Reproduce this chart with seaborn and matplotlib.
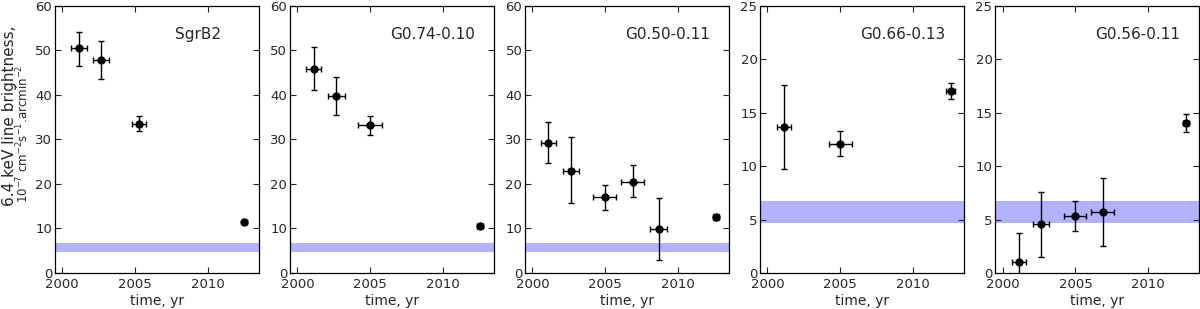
import numpy as np
import pandas as pd
import matplotlib
matplotlib.use("Agg")
import matplotlib.pyplot as plt
import seaborn as sns

# ---------------- data ----------------
names = ["SgrB2", "G0.74-0.10", "G0.50-0.11", "G0.66-0.13", "G0.56-0.11"]
ymax = [60, 60, 60, 25, 25]
ystep = [10, 10, 10, 5, 5]

sgrb2_t = [2001.15, 2002.68, 2005.25, 2012.5]
sgrb2_terr = [0.53, 0.55, 0.48, 0.2]
sgrb2_y = [50.5, 47.9, 33.5, 11.5]
sgrb2_ylo = [3.9, 4.3, 1.6, 0.5]
sgrb2_yhi = [3.7, 4.2, 1.7, 0.5]

g074_t = [2001.14, 2002.68, 2004.99, 2012.52]
g074_terr = [0.51, 0.57, 0.8, 0.2]
g074_y = [45.8, 39.75, 33.15, 10.6]
g074_ylo = [4.8, 4.35, 2.05, 0.4]
g074_yhi = [4.9, 4.35, 2.1, 0.4]

g050_t = [2001.1, 2002.65, 2004.97, 2006.88, 2008.67, 2012.6]
g050_terr = [0.5, 0.57, 0.78, 0.79, 0.57, 0.2]
g050_y = [29.25, 23.0, 17.0, 20.55, 9.9, 12.6]
g050_ylo = [4.65, 7.3, 2.75, 3.55, 7.05, 0.6]
g050_yhi = [4.65, 7.5, 2.8, 3.6, 7.05, 0.6]

g066_t = [2001.14, 2005.0, 2012.57]
g066_terr = [0.51, 0.8, 0.29]
g066_y = [13.7, 12.1, 17.03]
g066_ylo = [3.95, 1.15, 0.78]
g066_yhi = [3.9, 1.15, 0.75]

g056_t = [2001.13, 2002.65, 2004.97, 2006.88, 2012.6]
g056_terr = [0.5, 0.57, 0.78, 0.79, 0.2]
g056_y = [1.0, 4.6, 5.3, 5.7, 14.0]
g056_ylo = [2.7, 3.1, 1.4, 3.2, 0.85]
g056_yhi = [2.7, 3.0, 1.4, 3.2, 0.85]

band_low = 4.7
band_high = 6.7

xticks = [2000, 2005, 2010]
xlim = (1999.5, 2013.5)

series = [
    (sgrb2_t, sgrb2_terr, sgrb2_y, sgrb2_ylo, sgrb2_yhi),
    (g074_t, g074_terr, g074_y, g074_ylo, g074_yhi),
    (g050_t, g050_terr, g050_y, g050_ylo, g050_yhi),
    (g066_t, g066_terr, g066_y, g066_ylo, g066_yhi),
    (g056_t, g056_terr, g056_y, g056_ylo, g056_yhi),
]

# ---------------- style ----------------
sns.set_style("ticks", {"xtick.direction": "in", "ytick.direction": "in",
                        "axes.edgecolor": "black"})
plt.rcParams["font.family"] = ["DejaVu Sans"]

fig, axes = plt.subplots(1, 5, figsize=(12, 3.09), dpi=100)
fig.subplots_adjust(left=0.0458, right=0.9994, top=0.981, bottom=0.1165, wspace=0.152)

for i, (ax, name, (t, terr, y, ylo, yhi)) in enumerate(zip(axes, names, series)):
    df = pd.DataFrame({"t": t, "y": y})
    ax.axhspan(band_low, band_high, color="blue", alpha=0.3, lw=0, zorder=1)
    ax.errorbar(df["t"], df["y"], xerr=terr, yerr=[ylo, yhi], fmt="none",
                ecolor="black", elinewidth=1.0, capsize=2.2, capthick=1.0, zorder=2)
    sns.scatterplot(data=df, x="t", y="y", ax=ax, color="black", s=36,
                    edgecolor="black", linewidth=0, zorder=3, legend=False)
    ax.set_xlim(*xlim)
    ax.set_ylim(0, ymax[i])
    ax.set_xticks(xticks)
    ax.set_yticks(np.arange(0, ymax[i] + 1, ystep[i]))
    ax.tick_params(top=True, right=True, direction="in", length=4, width=0.8,
                   labelsize=9.5)
    ax.tick_params(axis="x", pad=3.5)
    ax.tick_params(axis="y", pad=2)
    for sp in ax.spines.values():
        sp.set_linewidth(0.9)
        sp.set_visible(True)
    ax.set_xlabel("time, yr", fontsize=10, labelpad=2)
    ax.set_ylabel("")
    ax.text(0.70, 0.891, name, transform=ax.transAxes, ha="center", va="center",
            fontsize=11)

axes[0].text(-0.203, 0.590, "6.4 keV line brightness,", transform=axes[0].transAxes,
             rotation=90, rotation_mode="anchor", ha="center", va="baseline",
             fontsize=11)
axes[0].text(-0.131, 0.521, r"$10^{-7}$ cm$^{-2}$s$^{-1}$.arcmin$^{-2}$",
             transform=axes[0].transAxes, rotation=90, rotation_mode="anchor",
             ha="center", va="baseline", fontsize=8.5)

fig.savefig("out.png", dpi=100)
